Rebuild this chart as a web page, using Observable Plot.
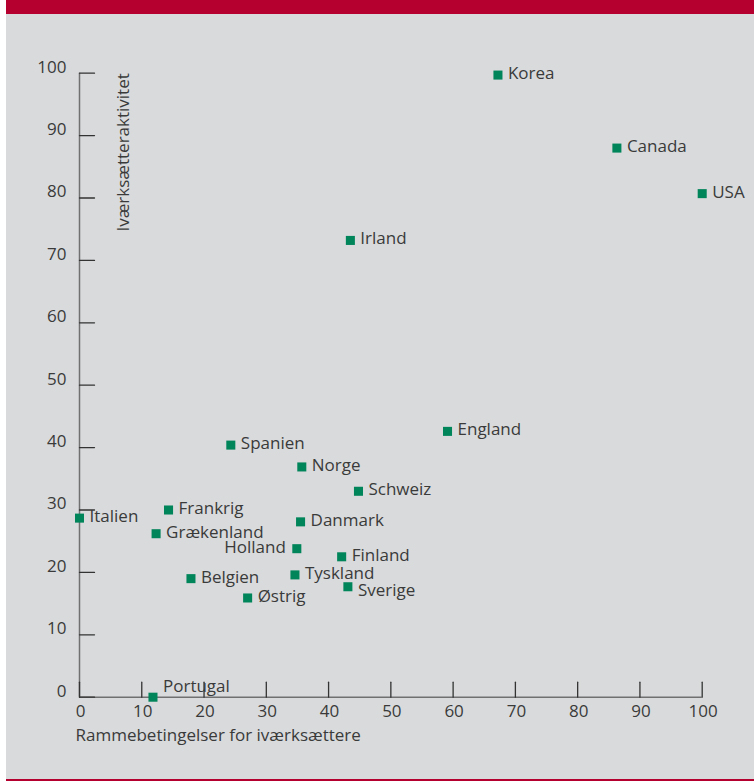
<!DOCTYPE html>
<html><head><meta charset="utf-8">
<script src="https://cdn.jsdelivr.net/npm/d3@7"></script>
<script src="https://cdn.jsdelivr.net/npm/@observablehq/plot@0.6"></script>
<style>
body{margin:0;background:#fff;}
#wrap{position:relative;width:754px;height:781px;overflow:hidden;}
#top{position:absolute;left:6px;top:0;width:748px;height:14px;background:#b5002f;}
#chart{position:absolute;left:6px;top:14px;width:748px;height:765px;background:#d9dadc;}
#bottom{position:absolute;left:6px;top:779px;width:748px;height:2px;background:#b5002f;}
</style>
</head><body>
<div id="wrap"><div id="top"></div><div id="chart"></div><div id="bottom"></div></div>
<script>
const countries = ["Korea","Canada","USA","Irland","England","Spanien","Norge","Schweiz","Danmark","Holland","Finland","Tyskland","Sverige","Østrig","Italien","Frankrig","Grækenland","Belgien","Portugal"];
const rammebetingelser = [67.2, 86.3, 100, 43.5, 59.1, 24.3, 35.7, 44.8, 35.5, 34.9, 42.1, 34.6, 43.1, 27.0, 0, 14.3, 12.3, 17.9, 11.8];
const aktivitet = [99.7, 88.0, 80.7, 73.2, 42.6, 40.4, 36.9, 33.0, 28.1, 23.8, 22.5, 19.6, 17.7, 15.9, 28.7, 30.0, 26.2, 19.0, 0];
const xTicks = [0,10,20,30,40,50,60,70,80,90,100];
const yTicks = [0,10,20,30,40,50,60,70,80,90,100];
const xLabel = "Rammebetingelser for iværksættere";
const yLabel = "Iværksætteraktivitet";

const data = countries.map((c,i)=>({name:c, x:rammebetingelser[i], y:aktivitet[i]}));
const leftLabels = new Set(["Holland"]);
const aboveLabels = new Set(["Portugal"]);
const belowLabels = new Set(["Sverige"]);
const normal = data.filter(d=>!leftLabels.has(d.name)&&!aboveLabels.has(d.name)&&!belowLabels.has(d.name));

const tickShape = {draw(ctx, l){ctx.moveTo(0,0); ctx.lineTo(0,-l);}};
const txt = "#3a3a3a";
const font = "'Open Sans', sans-serif";

const chart = Plot.plot({
  width: 748, height: 765,
  marginLeft: 73, marginRight: 52.3, marginTop: 58.7, marginBottom: 82.3,
  x: {domain:[0,100], axis:null},
  y: {domain:[0,100], axis:null},
  style: {background:"transparent", fontFamily:font, fontSize:"17px", color:txt, overflow:"visible"},
  marks: [
    Plot.ruleX([0], {stroke:"#707070", strokeWidth:1.5}),
    Plot.ruleY([0], {stroke:"#707070", strokeWidth:1.5}),
    Plot.vector(yTicks, {y:d=>d, frameAnchor:"left", length:15, rotate:90, anchor:"start", shape:tickShape, stroke:"#333", strokeWidth:1.3}),
    Plot.vector(xTicks, {x:d=>d, frameAnchor:"bottom", length:15, rotate:0, anchor:"start", shape:tickShape, stroke:"#333", strokeWidth:1.3}),
    Plot.text(yTicks, {y:d=>d, frameAnchor:"left", text:d=>String(d), textAnchor:"end", dx:-13, dy:-6, fill:txt, fontSize:17}),
    Plot.text(xTicks, {x:d=>d, frameAnchor:"bottom", text:d=>String(d), dy:19.5, dx:1, fill:txt, fontSize:17}),
    Plot.text([yLabel], {frameAnchor:"top-left", text:d=>d, rotate:-90, textAnchor:"end", dx:37, fill:txt, fontSize:17}),
    Plot.text([xLabel], {frameAnchor:"bottom-left", text:d=>d, textAnchor:"start", dx:-4, dy:43.5, fill:txt, fontSize:17}),
    Plot.dot(data, {x:"x", y:"y", symbol:"square", r:5.1, fill:"#00845a"}),
    Plot.text(normal, {x:"x", y:"y", text:"name", textAnchor:"start", dx:10, dy:-1.5, fill:txt, fontSize:17}),
    Plot.text(data.filter(d=>leftLabels.has(d.name)), {x:"x", y:"y", text:"name", textAnchor:"end", dx:-11, dy:-1.5, fill:txt, fontSize:17}),
    Plot.text(data.filter(d=>aboveLabels.has(d.name)), {x:"x", y:"y", text:"name", textAnchor:"start", dx:10, dy:-11, fill:txt, fontSize:17}),
    Plot.text(data.filter(d=>belowLabels.has(d.name)), {x:"x", y:"y", text:"name", textAnchor:"start", dx:10, dy:4, fill:txt, fontSize:17})
  ]
});
document.getElementById("chart").appendChild(chart);
</script>
</body></html>
